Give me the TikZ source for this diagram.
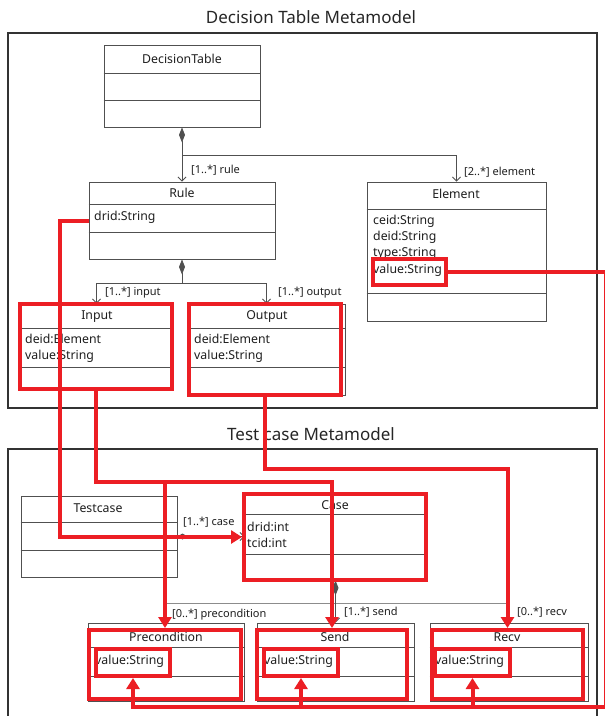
\documentclass[tikz,border=0pt]{standalone}
\usepackage{fontspec}
\setmainfont{Noto Sans}
\usetikzlibrary{arrows.meta,fit}
\definecolor{hlred}{RGB}{236,30,36}
\definecolor{umlgray}{RGB}{80,80,80}
\definecolor{txt}{RGB}{30,30,30}
\begin{document}
\begin{tikzpicture}[x=1pt,y=-1pt,
  umlbox/.style={draw=umlgray,line width=0.9pt,inner sep=0pt,fill=white},
  umlsep/.style={draw=umlgray,line width=0.9pt},
  frame/.style={draw=black!80,line width=1.1pt},
  hlbox/.style={draw=hlred,line width=4pt,inner sep=0pt},
  redline/.style={draw=hlred,line width=4pt,line join=miter},
  redarrow/.style={redline,-{Triangle[length=11pt,width=13pt]}},
  compo/.style={umlsep,{Diamond[length=15pt,width=6pt]}-},
  compoarr/.style={umlsep,{Diamond[length=15pt,width=6pt]}-{Straight Barb[length=4pt,width=8pt]}},
  assoc/.style={umlsep,-{Straight Barb[length=4pt,width=8pt]}},
  btitle/.style={font=\fontsize{12.3}{14}\selectfont,text=txt,inner sep=0pt},
  attr/.style={font=\fontsize{12.3}{14}\selectfont,text=txt,inner sep=0pt,anchor=west},
  mult/.style={font=\fontsize{11}{12}\selectfont,text=txt,inner sep=0pt,anchor=west},
  ptitle/.style={font=\fontsize{17}{20}\selectfont,text=black!85,inner sep=0pt}]
\useasboundingbox (0,0) rectangle (605,716);

% titles and frames
\node[ptitle] (t1) at (311,17) {Decision Table Metamodel};
\node[ptitle] (t2) at (311,434) {Test case Metamodel};
\draw[frame] (8,33) rectangle (597,408);
\draw[frame] (8,449) rectangle (597,730);

% UML boxes
\node[umlbox,fit={(104,45) (260,127)}] (dt) {};
\draw[umlsep] (dt.west |- 0,73) -- (dt.east |- 0,73);
\draw[umlsep] (dt.west |- 0,100) -- (dt.east |- 0,100);
\node[umlbox,fit={(89,182) (275,259)}] (rule) {};
\draw[umlsep] (rule.west |- 0,204) -- (rule.east |- 0,204);
\draw[umlsep] (rule.west |- 0,232) -- (rule.east |- 0,232);
\node[umlbox,fit={(367,182) (546,321)}] (el) {};
\draw[umlsep] (el.west |- 0,209) -- (el.east |- 0,209);
\draw[umlsep] (el.west |- 0,293) -- (el.east |- 0,293);
\node[umlbox,fit={(21,304) (172,389)}] (inp) {};
\draw[umlsep] (inp.west |- 0,328) -- (inp.east |- 0,328);
\draw[umlsep] (inp.west |- 0,367) -- (inp.east |- 0,367);
\node[umlbox,fit={(188,304) (345,395)}] (outp) {};
\draw[umlsep] (outp.west |- 0,328) -- (outp.east |- 0,328);
\draw[umlsep] (outp.west |- 0,367) -- (outp.east |- 0,367);
\node[umlbox,fit={(21,496) (177,577)}] (tc) {};
\draw[umlsep] (tc.west |- 0,522) -- (tc.east |- 0,522);
\draw[umlsep] (tc.west |- 0,550) -- (tc.east |- 0,550);
\node[umlbox,fit={(245,494) (426,580)}] (cs) {};
\draw[umlsep] (cs.west |- 0,514) -- (cs.east |- 0,514);
\draw[umlsep] (cs.west |- 0,554) -- (cs.east |- 0,554);
\node[umlbox,fit={(88,623) (244,701)}] (pre) {};
\node[umlbox,fit={(257,623) (414,701)}] (snd) {};
\node[umlbox,fit={(430,623) (588,701)}] (rcv) {};
\foreach \b in {pre,snd,rcv}{
  \draw[umlsep] (\b.west |- 0,647) -- (\b.east |- 0,647);
  \draw[umlsep] (\b.west |- 0,676) -- (\b.east |- 0,676);
}

% UML texts
\node[btitle] (dtT) at (182,59) {DecisionTable};
\node[btitle] (ruleT) at (182,193) {Rule};
\node[attr] (ruleA) at (94,217) {drid:String};
\node[btitle] (elT) at (456,194) {Element};
\node[attr] (elA1) at (373,221) {ceid:String};
\node[attr] (elA2) at (373,237) {deid:String};
\node[attr] (elA3) at (373,253) {type:String};
\node[attr] (elA4) at (373,270) {value:String};
\node[btitle] (inpT) at (97,317) {Input};
\node[attr] (inpA1) at (25,339) {deid:Element};
\node[attr] (inpA2) at (25,356) {value:String};
\node[btitle] (outpT) at (267,317) {Output};
\node[attr] (outpA1) at (194,339) {deid:Element};
\node[attr] (outpA2) at (194,356) {value:String};
\node[btitle] (tcT) at (98,508) {Testcase};
\node[btitle] (csT) at (335,505) {Case};
\node[attr] (csA1) at (247,527) {drid:int};
\node[attr] (csA2) at (247,543) {tcid:int};
\node[btitle] (preT) at (166,637) {Precondition};
\node[btitle] (sndT) at (335,637) {Send};
\node[btitle] (rcvT) at (507,637) {Recv};
\node[attr] (preA) at (95,661) {value:String};
\node[attr] (sndA) at (264,661) {value:String};
\node[attr] (rcvA) at (435,661) {value:String};

% UML connectors
\coordinate (j1) at (182,155);
\draw[compoarr] (dt.south) -- (dt.south |- rule.north);
\draw[assoc] (j1) -| (el.north);
\coordinate (j2) at (182,283);
\draw[compo] (rule.south) -- (j2);
\draw[assoc] (j2) -| (inp.north);
\draw[assoc] (j2) -| (outp.north);
\draw[umlsep,{Diamond[length=10pt,width=6pt]}-{Straight Barb[length=4pt,width=8pt]}] (tc.east) -- (tc.east -| cs.west);
\coordinate (j3) at (335.5,603);
\draw[compo] (cs.south) -- (j3);
\draw[assoc,draw=black!45] (j3) -| (pre.north);
\draw[assoc] (j3) -- (snd.north);
\draw[assoc,draw=black!45] (j3) -| (rcv.north);

% multiplicities
\node[mult] (m1) at (191,170) {[1..*] rule};
\node[mult] (m2) at (464,172) {[2..*] element};
\node[mult] (m3) at (105,293) {[1..*] input};
\node[mult] (m4) at (278,293) {[1..*] output};
\node[mult] (m5) at (183,522) {[1..*] case};
\node[mult] (m6) at (172,615) {[0..*] precondition};
\node[mult] (m7) at (344,612) {[1..*] send};
\node[mult] (m8) at (517,612) {[0..*] recv};

% red highlight boxes
\node[hlbox,fit={(20,304) (172,389)}] (inhl) {};
\node[hlbox,fit={(189,304) (341,395)}] (outhl) {};
\node[hlbox,fit={(373,259) (446,285)}] (elvhl) {};
\node[hlbox,fit={(244,494) (426,580)}] (casehl) {};
\node[hlbox,fit={(89,630) (241,699)}] (prehl) {};
\node[hlbox,fit={(257,630) (407,699)}] (sendhl) {};
\node[hlbox,fit={(432,630) (583,699)}] (recvhl) {};
\node[hlbox,fit={(96,649) (170,676)}] (prevhl) {};
\node[hlbox,fit={(264,649) (338,676)}] (sendvhl) {};
\node[hlbox,fit={(435,649) (510,676)}] (recvvhl) {};

% red connectors
\coordinate (aX) at (60,0);
\coordinate (aS) at (89,221);
\draw[redarrow] (aS) -- (aS -| aX) |- (casehl.west);
\coordinate (bY) at (0,482);
\draw[redarrow] (inhl.south) -- (inhl.south |- bY) -| (sendhl.north);
\draw[redarrow] (prehl.north |- bY) -- (prehl.north);
\coordinate (cY) at (0,469);
\draw[redarrow] (outhl.south) -- (outhl.south |- cY) -| (recvhl.north);
\coordinate (dX) at (606,0);
\coordinate (dY) at (0,707);
\draw[redarrow] (elvhl.east) -- (elvhl.east -| dX) |- (prevhl.south |- dY) -- (prevhl.south);
\draw[redarrow] (sendvhl.south |- dY) -- (sendvhl.south);
\draw[redarrow] (recvvhl.south |- dY) -- (recvvhl.south);
\end{tikzpicture}
\end{document}
